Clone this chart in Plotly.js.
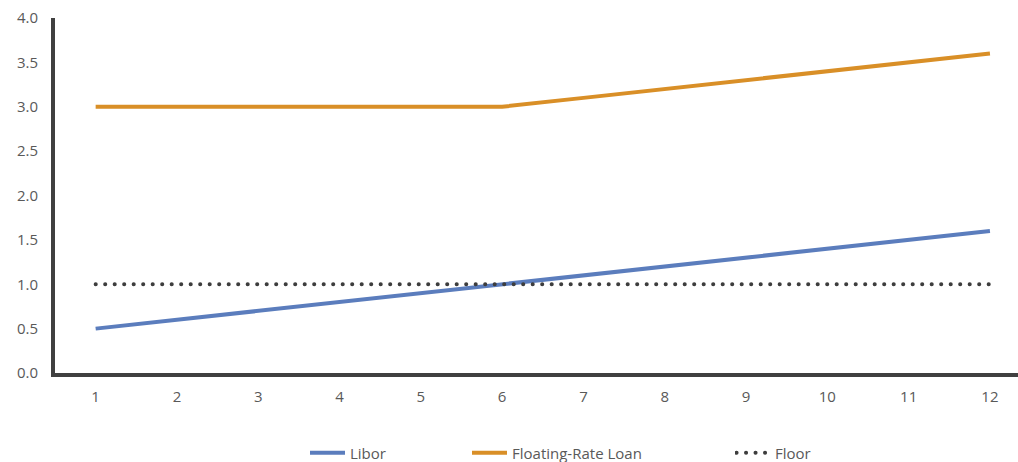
<!DOCTYPE html>
<html>
<head>
<meta charset="utf-8">
<script src="https://cdn.plot.ly/plotly-3.0.1.min.js"></script>
<style>
html,body{margin:0;padding:0;background:#fff;}
#chart{width:1018px;height:462px;}
.legendlines path { d: path("M-10,0h45"); }
.scatterlayer .trace:nth-child(3) .js-line { stroke-linecap: round; }
.legend3 .legendlines path { stroke-linecap: round; d: path("M-8,0h45"); }
</style>
</head>
<body>
<div id="chart"></div>
<script>
const months = [1,2,3,4,5,6,7,8,9,10,11,12];
const libor = [0.5,0.6,0.7,0.8,0.9,1.0,1.1,1.2,1.3,1.4,1.5,1.6];
const floatingRateLoan = [3.0,3.0,3.0,3.0,3.0,3.0,3.1,3.2,3.3,3.4,3.5,3.6];
const floor = [1.0,1.0,1.0,1.0,1.0,1.0,1.0,1.0,1.0,1.0,1.0,1.0];
const yTicks = [0,0.5,1,1.5,2,2.5,3,3.5,4];
const yTickLabels = ['0.0','0.5','1.0','1.5','2.0','2.5','3.0','3.5','4.0'];

const txtColor = '#595959';
const fontFam = '"Open Sans", sans-serif';

const traces = [
  {x: months, y: libor, name: 'Libor', mode: 'lines', line: {color: '#5b7dbd', width: 4}, legend: 'legend'},
  {x: months, y: floatingRateLoan, name: 'Floating-Rate Loan', mode: 'lines', line: {color: '#d98f27', width: 4}, legend: 'legend2'},
  {x: months, y: floor, name: 'Floor', mode: 'lines', line: {color: '#3d3d3d', width: 4, dash: '0.1px,9.4px'}, legend: 'legend3'}
];

const W = 963, H = 355;
function lx(px){ return (px - 55) / W; }
const ly = -(453 - 373) / H;
const legBase = {orientation: 'h', yanchor: 'middle', y: ly, xanchor: 'left', font: {family: fontFam, size: 15, color: txtColor}, bgcolor: 'rgba(0,0,0,0)'};

const layout = {
  width: 1018, height: 462,
  margin: {l: 55, r: 0, t: 18, b: 89, autoexpand: false},
  paper_bgcolor: '#fff', plot_bgcolor: '#fff',
  showlegend: true,
  xaxis: {
    range: [0.5, 12.345], tickvals: months, ticktext: months.map(String),
    showgrid: false, zeroline: false, showline: true, linecolor: '#404040', linewidth: 4,
    ticks: '', ticklabelstandoff: 7,
    tickfont: {family: fontFam, size: 15, color: txtColor}
  },
  yaxis: {
    range: [0, 4], tickvals: yTicks, ticktext: yTickLabels,
    showgrid: false, zeroline: false, showline: true, linecolor: '#404040', linewidth: 4,
    ticks: '', ticklabelstandoff: 10,
    tickfont: {family: fontFam, size: 15, color: txtColor}
  },
  legend: Object.assign({}, legBase, {x: lx(310)}),
  legend2: Object.assign({}, legBase, {x: lx(472)}),
  legend3: Object.assign({}, legBase, {x: lx(735)})
};

Plotly.newPlot('chart', traces, layout, {displayModeBar: false, staticPlot: true});
</script>
</body>
</html>
